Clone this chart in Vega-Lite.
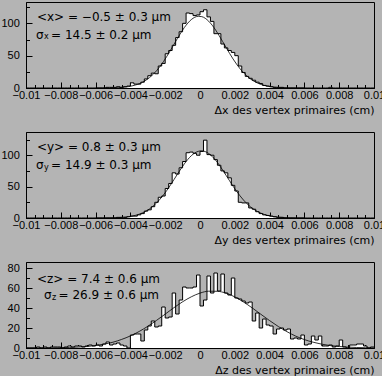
{
"$schema": "https://vega.github.io/schema/vega-lite/v6.json",
"background": "#b4b4b4",
"padding": {"left": 0, "top": 0, "right": 0, "bottom": 3},
"spacing": 44,
"bounds": "flush",
"config": {
  "view": {"stroke": "black", "strokeWidth": 1},
  "axis": {"labelFont": "Liberation Sans", "labelFontSize": 11, "labelColor": "black", "tickColor": "black", "tickWidth": 1, "domain": true, "domainColor": "black", "domainWidth": 1, "grid": false, "titleFont": "DejaVu Sans", "titleFontSize": 11, "titleFontWeight": "normal", "titleColor": "black", "labelFlush": false, "labelOverlap": false, "zindex": 1}
},
"datasets": {
  "h1": [{"x":-0.01,"n":0},{"x":-0.0098,"n":0},{"x":-0.0096,"n":0},{"x":-0.0094,"n":0},{"x":-0.0092,"n":0},{"x":-0.009,"n":0},{"x":-0.0088,"n":0},{"x":-0.0086,"n":0},{"x":-0.0084,"n":0},{"x":-0.0082,"n":0},{"x":-0.008,"n":0},{"x":-0.0078,"n":0},{"x":-0.0076,"n":0},{"x":-0.0074,"n":0},{"x":-0.0072,"n":0},{"x":-0.007,"n":0},{"x":-0.0068,"n":0},{"x":-0.0066,"n":0},{"x":-0.0064,"n":0},{"x":-0.0062,"n":0},{"x":-0.006,"n":0},{"x":-0.0058,"n":0},{"x":-0.0056,"n":0},{"x":-0.0054,"n":1},{"x":-0.0052,"n":1},{"x":-0.005,"n":1},{"x":-0.0048,"n":2},{"x":-0.0046,"n":1},{"x":-0.0044,"n":2},{"x":-0.0042,"n":3},{"x":-0.004,"n":8},{"x":-0.0038,"n":6},{"x":-0.0036,"n":6},{"x":-0.0034,"n":9},{"x":-0.0032,"n":14},{"x":-0.003,"n":19},{"x":-0.0028,"n":23},{"x":-0.0026,"n":22},{"x":-0.0024,"n":34},{"x":-0.0022,"n":38},{"x":-0.002,"n":53},{"x":-0.0018,"n":58},{"x":-0.0016,"n":66},{"x":-0.0014,"n":78},{"x":-0.0012,"n":87},{"x":-0.001,"n":100},{"x":-0.0008,"n":116},{"x":-0.0006,"n":115},{"x":-0.0004,"n":112},{"x":-0.0002,"n":113},{"x":0,"n":118},{"x":0.0002,"n":121},{"x":0.0004,"n":110},{"x":0.0006,"n":103},{"x":0.0008,"n":84},{"x":0.001,"n":84},{"x":0.0012,"n":68},{"x":0.0014,"n":62},{"x":0.0016,"n":58},{"x":0.0018,"n":55},{"x":0.002,"n":50},{"x":0.0022,"n":34},{"x":0.0024,"n":24},{"x":0.0026,"n":18},{"x":0.0028,"n":15},{"x":0.003,"n":12},{"x":0.0032,"n":9},{"x":0.0034,"n":7},{"x":0.0036,"n":4},{"x":0.0038,"n":3},{"x":0.004,"n":2},{"x":0.0042,"n":1},{"x":0.0044,"n":1},{"x":0.0046,"n":1},{"x":0.0048,"n":0},{"x":0.005,"n":0},{"x":0.0052,"n":0},{"x":0.0054,"n":0},{"x":0.0056,"n":0},{"x":0.0058,"n":0},{"x":0.006,"n":0},{"x":0.0062,"n":0},{"x":0.0064,"n":0},{"x":0.0066,"n":0},{"x":0.0068,"n":0},{"x":0.007,"n":0},{"x":0.0072,"n":0},{"x":0.0074,"n":1},{"x":0.0076,"n":0},{"x":0.0078,"n":0},{"x":0.008,"n":0},{"x":0.0082,"n":0},{"x":0.0084,"n":0},{"x":0.0086,"n":0},{"x":0.0088,"n":0},{"x":0.009,"n":0},{"x":0.0092,"n":0},{"x":0.0094,"n":0},{"x":0.0096,"n":0},{"x":0.0098,"n":0},{"x":0.01,"n":0}],
  "h2": [{"x":-0.01,"n":0},{"x":-0.0098,"n":0},{"x":-0.0096,"n":0},{"x":-0.0094,"n":0},{"x":-0.0092,"n":0},{"x":-0.009,"n":0},{"x":-0.0088,"n":0},{"x":-0.0086,"n":0},{"x":-0.0084,"n":0},{"x":-0.0082,"n":0},{"x":-0.008,"n":0},{"x":-0.0078,"n":0},{"x":-0.0076,"n":0},{"x":-0.0074,"n":0},{"x":-0.0072,"n":0},{"x":-0.007,"n":0},{"x":-0.0068,"n":0},{"x":-0.0066,"n":0},{"x":-0.0064,"n":0},{"x":-0.0062,"n":0},{"x":-0.006,"n":0},{"x":-0.0058,"n":0},{"x":-0.0056,"n":0},{"x":-0.0054,"n":0},{"x":-0.0052,"n":0},{"x":-0.005,"n":0},{"x":-0.0048,"n":1},{"x":-0.0046,"n":1},{"x":-0.0044,"n":1},{"x":-0.0042,"n":2},{"x":-0.004,"n":3},{"x":-0.0038,"n":3},{"x":-0.0036,"n":5},{"x":-0.0034,"n":7},{"x":-0.0032,"n":11},{"x":-0.003,"n":13},{"x":-0.0028,"n":18},{"x":-0.0026,"n":25},{"x":-0.0024,"n":33},{"x":-0.0022,"n":35},{"x":-0.002,"n":47},{"x":-0.0018,"n":55},{"x":-0.0016,"n":72},{"x":-0.0014,"n":70},{"x":-0.0012,"n":80},{"x":-0.001,"n":90},{"x":-0.0008,"n":104},{"x":-0.0006,"n":105},{"x":-0.0004,"n":103},{"x":-0.0002,"n":100},{"x":0,"n":106},{"x":0.0002,"n":124},{"x":0.0004,"n":101},{"x":0.0006,"n":100},{"x":0.0008,"n":93},{"x":0.001,"n":84},{"x":0.0012,"n":75},{"x":0.0014,"n":72},{"x":0.0016,"n":64},{"x":0.0018,"n":52},{"x":0.002,"n":43},{"x":0.0022,"n":25},{"x":0.0024,"n":24},{"x":0.0026,"n":24},{"x":0.0028,"n":16},{"x":0.003,"n":14},{"x":0.0032,"n":10},{"x":0.0034,"n":7},{"x":0.0036,"n":5},{"x":0.0038,"n":4},{"x":0.004,"n":3},{"x":0.0042,"n":2},{"x":0.0044,"n":1},{"x":0.0046,"n":1},{"x":0.0048,"n":0},{"x":0.005,"n":0},{"x":0.0052,"n":0},{"x":0.0054,"n":0},{"x":0.0056,"n":0},{"x":0.0058,"n":0},{"x":0.006,"n":0},{"x":0.0062,"n":0},{"x":0.0064,"n":0},{"x":0.0066,"n":0},{"x":0.0068,"n":0},{"x":0.007,"n":0},{"x":0.0072,"n":0},{"x":0.0074,"n":0},{"x":0.0076,"n":0},{"x":0.0078,"n":0},{"x":0.008,"n":0},{"x":0.0082,"n":0},{"x":0.0084,"n":0},{"x":0.0086,"n":0},{"x":0.0088,"n":0},{"x":0.009,"n":0},{"x":0.0092,"n":0},{"x":0.0094,"n":0},{"x":0.0096,"n":0},{"x":0.0098,"n":0},{"x":0.01,"n":0}],
  "h3": [{"x":-0.01,"n":0},{"x":-0.0098,"n":0},{"x":-0.0096,"n":0},{"x":-0.0094,"n":1},{"x":-0.0092,"n":0},{"x":-0.009,"n":1},{"x":-0.0088,"n":0},{"x":-0.0086,"n":1},{"x":-0.0084,"n":1},{"x":-0.0082,"n":1},{"x":-0.008,"n":0},{"x":-0.0078,"n":1},{"x":-0.0076,"n":2},{"x":-0.0074,"n":1},{"x":-0.0072,"n":2},{"x":-0.007,"n":2},{"x":-0.0068,"n":1},{"x":-0.0066,"n":2},{"x":-0.0064,"n":3},{"x":-0.0062,"n":2},{"x":-0.006,"n":3},{"x":-0.0058,"n":2},{"x":-0.0056,"n":4},{"x":-0.0054,"n":6},{"x":-0.0052,"n":3},{"x":-0.005,"n":4},{"x":-0.0048,"n":5},{"x":-0.0046,"n":3},{"x":-0.0044,"n":2},{"x":-0.0042,"n":0},{"x":-0.004,"n":13},{"x":-0.0038,"n":14},{"x":-0.0036,"n":14},{"x":-0.0034,"n":7},{"x":-0.0032,"n":18},{"x":-0.003,"n":22},{"x":-0.0028,"n":27},{"x":-0.0026,"n":21},{"x":-0.0024,"n":22},{"x":-0.0022,"n":41},{"x":-0.002,"n":30},{"x":-0.0018,"n":31},{"x":-0.0016,"n":55},{"x":-0.0014,"n":34},{"x":-0.0012,"n":48},{"x":-0.001,"n":61},{"x":-0.0008,"n":60},{"x":-0.0006,"n":60},{"x":-0.0004,"n":61},{"x":-0.0002,"n":73},{"x":0,"n":42},{"x":0.0002,"n":48},{"x":0.0004,"n":72},{"x":0.0006,"n":55},{"x":0.0008,"n":75},{"x":0.001,"n":57},{"x":0.0012,"n":74},{"x":0.0014,"n":55},{"x":0.0016,"n":53},{"x":0.0018,"n":70},{"x":0.002,"n":50},{"x":0.0022,"n":49},{"x":0.0024,"n":47},{"x":0.0026,"n":45},{"x":0.0028,"n":46},{"x":0.003,"n":27},{"x":0.0032,"n":35},{"x":0.0034,"n":20},{"x":0.0036,"n":29},{"x":0.0038,"n":23},{"x":0.004,"n":22},{"x":0.0042,"n":14},{"x":0.0044,"n":19},{"x":0.0046,"n":20},{"x":0.0048,"n":18},{"x":0.005,"n":19},{"x":0.0052,"n":9},{"x":0.0054,"n":10},{"x":0.0056,"n":9},{"x":0.0058,"n":13},{"x":0.006,"n":3},{"x":0.0062,"n":4},{"x":0.0064,"n":12},{"x":0.0066,"n":8},{"x":0.0068,"n":12},{"x":0.007,"n":2},{"x":0.0072,"n":2},{"x":0.0074,"n":3},{"x":0.0076,"n":1},{"x":0.0078,"n":2},{"x":0.008,"n":8},{"x":0.0082,"n":1},{"x":0.0084,"n":0},{"x":0.0086,"n":3},{"x":0.0088,"n":3},{"x":0.009,"n":4},{"x":0.0092,"n":4},{"x":0.0094,"n":2},{"x":0.0096,"n":0},{"x":0.0098,"n":1},{"x":0.01,"n":1}],
  "f1": [{"x":-0.006,"n":0.02},{"x":-0.0055,"n":0.1},{"x":-0.0049,"n":0.41},{"x":-0.0047,"n":0.65},{"x":-0.0045,"n":1.0},{"x":-0.0043,"n":1.5},{"x":-0.0041,"n":2.2},{"x":-0.0039,"n":3.3},{"x":-0.0037,"n":4.7},{"x":-0.0035,"n":6.5},{"x":-0.0033,"n":9.0},{"x":-0.0031,"n":12.2},{"x":-0.0029,"n":16.1},{"x":-0.0027,"n":20.9},{"x":-0.0025,"n":26.6},{"x":-0.0023,"n":33.3},{"x":-0.0021,"n":40.8},{"x":-0.0019,"n":49.2},{"x":-0.0017,"n":58.1},{"x":-0.0015,"n":67.3},{"x":-0.0013,"n":76.5},{"x":-0.0011,"n":85.4},{"x":-0.0009,"n":93.5},{"x":-0.0007,"n":100.4},{"x":-0.0005,"n":105.8},{"x":-0.0003,"n":109.4},{"x":-0.0001,"n":110.9},{"x":0.0001,"n":110.4},{"x":0.0003,"n":107.8},{"x":0.0005,"n":103.3},{"x":0.0007,"n":97.1},{"x":0.0009,"n":89.6},{"x":0.0011,"n":81.0},{"x":0.0013,"n":71.9},{"x":0.0015,"n":62.7},{"x":0.0017,"n":53.5},{"x":0.0019,"n":44.9},{"x":0.0021,"n":37.0},{"x":0.0023,"n":29.8},{"x":0.0025,"n":23.6},{"x":0.0027,"n":18.4},{"x":0.0029,"n":14.0},{"x":0.0031,"n":10.5},{"x":0.0033,"n":7.7},{"x":0.0035,"n":5.5},{"x":0.0037,"n":3.9},{"x":0.0039,"n":2.7},{"x":0.0041,"n":1.8},{"x":0.0043,"n":1.2},{"x":0.0045,"n":0.8},{"x":0.005,"n":0.26},{"x":0.0055,"n":0.07},{"x":0.006,"n":0.02}],
  "f2": [{"x":-0.006,"n":0.03},{"x":-0.0055,"n":0.1},{"x":-0.0047,"n":0.6},{"x":-0.0045,"n":0.95},{"x":-0.0043,"n":1.4},{"x":-0.0041,"n":2.1},{"x":-0.0039,"n":3.0},{"x":-0.0037,"n":4.3},{"x":-0.0035,"n":6.0},{"x":-0.0033,"n":8.2},{"x":-0.0031,"n":11.0},{"x":-0.0029,"n":14.5},{"x":-0.0027,"n":18.8},{"x":-0.0025,"n":23.9},{"x":-0.0023,"n":29.9},{"x":-0.0021,"n":36.7},{"x":-0.0019,"n":44.2},{"x":-0.0017,"n":52.4},{"x":-0.0015,"n":61.0},{"x":-0.0013,"n":69.7},{"x":-0.0011,"n":78.2},{"x":-0.0009,"n":86.2},{"x":-0.0007,"n":93.3},{"x":-0.0005,"n":99.2},{"x":-0.0003,"n":103.6},{"x":-0.0001,"n":106.2},{"x":0.0001,"n":107.0},{"x":0.0003,"n":105.8},{"x":0.0005,"n":102.8},{"x":0.0007,"n":98.1},{"x":0.0009,"n":92.0},{"x":0.0011,"n":84.7},{"x":0.0013,"n":76.5},{"x":0.0015,"n":67.9},{"x":0.0017,"n":59.3},{"x":0.0019,"n":50.7},{"x":0.0021,"n":42.7},{"x":0.0023,"n":35.3},{"x":0.0025,"n":28.6},{"x":0.0027,"n":22.8},{"x":0.0029,"n":17.8},{"x":0.0031,"n":13.7},{"x":0.0033,"n":10.4},{"x":0.0035,"n":7.7},{"x":0.0037,"n":5.6},{"x":0.0039,"n":4.0},{"x":0.0041,"n":2.8},{"x":0.0043,"n":1.9},{"x":0.0045,"n":1.3},{"x":0.005,"n":0.46},{"x":0.0055,"n":0.14},{"x":0.006,"n":0.04}],
  "f3": [{"x":-0.01,"n":0.02},{"x":-0.0095,"n":0.04},{"x":-0.009,"n":0.08},{"x":-0.0085,"n":0.16},{"x":-0.008,"n":0.29},{"x":-0.0075,"n":0.52},{"x":-0.007,"n":0.91},{"x":-0.0065,"n":1.5},{"x":-0.006,"n":2.5},{"x":-0.0055,"n":3.9},{"x":-0.005,"n":5.8},{"x":-0.0045,"n":8.6},{"x":-0.004,"n":12.1},{"x":-0.0035,"n":16.5},{"x":-0.003,"n":21.7},{"x":-0.0025,"n":27.6},{"x":-0.002,"n":33.9},{"x":-0.0015,"n":40.3},{"x":-0.001,"n":46.2},{"x":-0.0005,"n":51.2},{"x":0,"n":54.9},{"x":0.0005,"n":56.8},{"x":0.001,"n":56.7},{"x":0.0015,"n":54.8},{"x":0.002,"n":51.1},{"x":0.0025,"n":46.0},{"x":0.003,"n":40.1},{"x":0.0035,"n":33.7},{"x":0.004,"n":27.4},{"x":0.0045,"n":21.5},{"x":0.005,"n":16.3},{"x":0.0055,"n":11.9},{"x":0.006,"n":8.4},{"x":0.0065,"n":5.8},{"x":0.007,"n":3.8},{"x":0.0075,"n":2.4},{"x":0.008,"n":1.5},{"x":0.0085,"n":0.89},{"x":0.009,"n":0.51},{"x":0.0095,"n":0.28},{"x":0.01,"n":0.15}],
  "t1": [{"x":-0.00937,"n":109.8,"label":"<x> = −0.5 ± 0.3 μm"},{"x":-0.00943,"n":82.7,"label":"σ"},{"x":-0.00856,"n":82.7,"label":"= 14.5 ± 0.2 μm"}],
  "s1": [{"x":-0.00897,"n":78.1,"label":"x"}],
  "t2": [{"x":-0.00937,"n":113.1,"label":"<y> = 0.8 ± 0.3 μm"},{"x":-0.00943,"n":85.2,"label":"σ"},{"x":-0.00856,"n":85.2,"label":"= 14.9 ± 0.3 μm"}],
  "s2": [{"x":-0.00897,"n":80.4,"label":"y"}],
  "t3": [{"x":-0.00937,"n":69.5,"label":"<z> = 7.4 ± 0.6 μm"},{"x":-0.00897,"n":53,"label":"σ"},{"x":-0.00813,"n":53,"label":"= 26.9 ± 0.6 μm"}],
  "s3": [{"x":-0.00851,"n":50,"label":"z"}]
},
"vconcat": [
  {
    "width": 348, "height": 86,
    "encoding": {
      "x": {"field": "x", "type": "quantitative", "scale": {"domain": [-0.01, 0.01], "nice": false, "zero": false},
        "axis": {"title": "Δx des vertex primaires (cm)", "values": [-0.01,-0.0095,-0.009,-0.0085,-0.008,-0.0075,-0.007,-0.0065,-0.006,-0.0055,-0.005,-0.0045,-0.004,-0.0035,-0.003,-0.0025,-0.002,-0.0015,-0.001,-0.0005,0,0.0005,0.001,0.0015,0.002,0.0025,0.003,0.0035,0.004,0.0045,0.005,0.0055,0.006,0.0065,0.007,0.0075,0.008,0.0085,0.009,0.0095,0.01], "format": "~g", "labelExpr": "abs(datum.value/0.002-round(datum.value/0.002))<0.01 ? datum.label : ''", "tickSize": {"condition": {"test": "abs(datum.value/0.002-round(datum.value/0.002))<0.01", "value": -6}, "value": -3.5}, "labelPadding": 7, "titleAnchor": "end", "titlePadding": 2}},
      "y": {"field": "n", "type": "quantitative", "scale": {"domain": [0, 133], "nice": false},
        "axis": {"title": null, "values": [0,25,50,75,100,125], "labelExpr": "datum.value % 50 == 0 ? datum.label : ''", "tickSize": {"condition": {"test": "datum.value % 50 == 0", "value": -6}, "value": -3.5}, "labelPadding": 12.65}}
    },
    "layer": [
      {"data": {"name": "h1"}, "mark": {"type": "area", "interpolate": "step-after", "color": "white", "opacity": 1}},
      {"data": {"name": "h1"}, "mark": {"type": "line", "interpolate": "step-after", "color": "black", "strokeWidth": 1}},
      {"data": {"name": "f1"}, "mark": {"type": "line", "interpolate": "monotone", "color": "black", "strokeWidth": 0.8}},
      {"data": {"name": "t1"}, "mark": {"type": "text", "align": "left", "baseline": "middle", "font": "DejaVu Sans", "fontSize": 12, "color": "black"}, "encoding": {"text": {"field": "label"}}},
      {"data": {"name": "s1"}, "mark": {"type": "text", "align": "left", "baseline": "middle", "font": "DejaVu Sans", "fontSize": 8, "color": "black"}, "encoding": {"text": {"field": "label"}}}
    ]
  },
  {
    "width": 348, "height": 86,
    "encoding": {
      "x": {"field": "x", "type": "quantitative", "scale": {"domain": [-0.01, 0.01], "nice": false, "zero": false},
        "axis": {"title": "Δy des vertex primaires (cm)", "values": [-0.01,-0.0095,-0.009,-0.0085,-0.008,-0.0075,-0.007,-0.0065,-0.006,-0.0055,-0.005,-0.0045,-0.004,-0.0035,-0.003,-0.0025,-0.002,-0.0015,-0.001,-0.0005,0,0.0005,0.001,0.0015,0.002,0.0025,0.003,0.0035,0.004,0.0045,0.005,0.0055,0.006,0.0065,0.007,0.0075,0.008,0.0085,0.009,0.0095,0.01], "format": "~g", "labelExpr": "abs(datum.value/0.002-round(datum.value/0.002))<0.01 ? datum.label : ''", "tickSize": {"condition": {"test": "abs(datum.value/0.002-round(datum.value/0.002))<0.01", "value": -6}, "value": -3.5}, "labelPadding": 7, "titleAnchor": "end", "titlePadding": 2}},
      "y": {"field": "n", "type": "quantitative", "scale": {"domain": [0, 137], "nice": false},
        "axis": {"title": null, "values": [0,25,50,75,100,125], "labelExpr": "datum.value % 50 == 0 ? datum.label : ''", "tickSize": {"condition": {"test": "datum.value % 50 == 0", "value": -6}, "value": -3.5}, "labelPadding": 12.65}}
    },
    "layer": [
      {"data": {"name": "h2"}, "mark": {"type": "area", "interpolate": "step-after", "color": "white", "opacity": 1}},
      {"data": {"name": "h2"}, "mark": {"type": "line", "interpolate": "step-after", "color": "black", "strokeWidth": 1}},
      {"data": {"name": "f2"}, "mark": {"type": "line", "interpolate": "monotone", "color": "black", "strokeWidth": 0.8}},
      {"data": {"name": "t2"}, "mark": {"type": "text", "align": "left", "baseline": "middle", "font": "DejaVu Sans", "fontSize": 12, "color": "black"}, "encoding": {"text": {"field": "label"}}},
      {"data": {"name": "s2"}, "mark": {"type": "text", "align": "left", "baseline": "middle", "font": "DejaVu Sans", "fontSize": 8, "color": "black"}, "encoding": {"text": {"field": "label"}}}
    ]
  },
  {
    "width": 348, "height": 86,
    "encoding": {
      "x": {"field": "x", "type": "quantitative", "scale": {"domain": [-0.01, 0.01], "nice": false, "zero": false},
        "axis": {"title": "Δz des vertex primaires (cm)", "values": [-0.01,-0.0095,-0.009,-0.0085,-0.008,-0.0075,-0.007,-0.0065,-0.006,-0.0055,-0.005,-0.0045,-0.004,-0.0035,-0.003,-0.0025,-0.002,-0.0015,-0.001,-0.0005,0,0.0005,0.001,0.0015,0.002,0.0025,0.003,0.0035,0.004,0.0045,0.005,0.0055,0.006,0.0065,0.007,0.0075,0.008,0.0085,0.009,0.0095,0.01], "format": "~g", "labelExpr": "abs(datum.value/0.002-round(datum.value/0.002))<0.01 ? datum.label : ''", "tickSize": {"condition": {"test": "abs(datum.value/0.002-round(datum.value/0.002))<0.01", "value": -6}, "value": -3.5}, "labelPadding": 7, "titleAnchor": "end", "titlePadding": 2}},
      "y": {"field": "n", "type": "quantitative", "scale": {"domain": [0, 86], "nice": false},
        "axis": {"title": null, "values": [0,10,20,30,40,50,60,70,80], "labelExpr": "datum.value % 20 == 0 ? datum.label : ''", "tickSize": {"condition": {"test": "datum.value % 20 == 0", "value": -6}, "value": -3.5}, "labelPadding": 12.65}}
    },
    "layer": [
      {"data": {"name": "h3"}, "mark": {"type": "area", "interpolate": "step-after", "color": "white", "opacity": 1}},
      {"data": {"name": "h3"}, "mark": {"type": "line", "interpolate": "step-after", "color": "black", "strokeWidth": 1}},
      {"data": {"name": "f3"}, "mark": {"type": "line", "interpolate": "monotone", "color": "black", "strokeWidth": 0.8}},
      {"data": {"name": "t3"}, "mark": {"type": "text", "align": "left", "baseline": "middle", "font": "DejaVu Sans", "fontSize": 12, "color": "black"}, "encoding": {"text": {"field": "label"}}},
      {"data": {"name": "s3"}, "mark": {"type": "text", "align": "left", "baseline": "middle", "font": "DejaVu Sans", "fontSize": 8, "color": "black"}, "encoding": {"text": {"field": "label"}}}
    ]
  }
]
}
